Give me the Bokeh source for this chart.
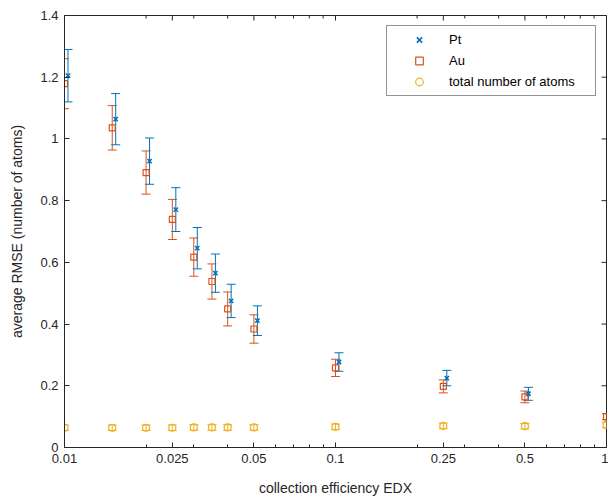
import math
from bokeh.plotting import figure
from bokeh.models import (ColumnDataSource, Whisker, TeeHead, Range1d, FixedTicker,
                          NumeralTickFormatter, Legend, LegendItem)
from bokeh.embed import file_html
from bokeh.resources import INLINE

# ---- data ----
x = [0.01, 0.015, 0.02, 0.025, 0.03, 0.035, 0.04, 0.05, 0.1, 0.25, 0.5, 1.0]
pt = [1.205, 1.064, 0.928, 0.771, 0.646, 0.565, 0.475, 0.411, 0.277, 0.225, 0.174, 0.098]
pt_err = [0.085, 0.083, 0.075, 0.071, 0.067, 0.062, 0.054, 0.048, 0.030, 0.025, 0.021, 0.010]
au = [1.179, 1.036, 0.891, 0.739, 0.617, 0.538, 0.449, 0.384, 0.258, 0.198, 0.164, 0.100]
au_err = [0.081, 0.072, 0.070, 0.065, 0.062, 0.057, 0.055, 0.046, 0.028, 0.021, 0.019, 0.010]
total = [0.064, 0.064, 0.064, 0.064, 0.065, 0.065, 0.065, 0.065, 0.067, 0.070, 0.069, 0.073]
total_err = [0.009, 0.009, 0.009, 0.009, 0.009, 0.009, 0.009, 0.009, 0.009, 0.009, 0.009, 0.009]

x_major = [0.01, 0.025, 0.05, 0.1, 0.25, 0.5, 1.0]
x_minor = [0.02, 0.03, 0.04, 0.06, 0.07, 0.08, 0.09, 0.2, 0.3, 0.4, 0.6, 0.7, 0.8, 0.9]
y_major = [0, 0.2, 0.4, 0.6, 0.8, 1.0, 1.2, 1.4]
x_lim = (0.01, 1.0)
y_lim = (0.0, 1.4)

series = ["Pt", "Au", "total number of atoms"]
colors = ["#0072BD", "#D95319", "#EDB120"]

FONT = "Liberation Sans"
TXT = "#262626"

pt_shift = 1.03  # Pt markers drawn slightly right of the nominal x
pt_x = [v * pt_shift for v in x]

p = figure(width=608, height=498, x_axis_type="log",
           x_range=Range1d(*x_lim), y_range=Range1d(*y_lim),
           output_backend="svg", toolbar_location=None,
           min_border_left=64, min_border_right=2, min_border_top=15, min_border_bottom=50)
p.xgrid.visible = False
p.ygrid.visible = False
p.outline_line_color = TXT
p.outline_line_width = 1
p.background_fill_color = "white"
p.border_fill_color = "white"


def add_series(xs, ys, es, color, marker, size, lw):
    src = ColumnDataSource(dict(x=xs, y=ys,
                                lo=[a - b for a, b in zip(ys, es)],
                                hi=[a + b for a, b in zip(ys, es)]))
    w = Whisker(base="x", lower="lo", upper="hi", source=src, dimension="height",
                line_color=color, line_width=1,
                upper_head=TeeHead(size=9, line_color=color, line_width=1),
                lower_head=TeeHead(size=9, line_color=color, line_width=1))
    p.add_layout(w)
    return p.scatter("x", "y", source=src, marker=marker, size=size,
                     line_color=color, fill_color=None, line_width=lw)


r_total = add_series(x, total, total_err, colors[2], "circle", 7, 1.2)
r_au = add_series(x, au, au_err, colors[1], "square", 6, 1.2)
r_pt = add_series(pt_x, pt, pt_err, colors[0], "x", 6, 1.6)

# axes
xa = p.xaxis[0]
xa.ticker = FixedTicker(ticks=x_major, minor_ticks=x_minor)
xa.formatter = NumeralTickFormatter(format="0.[000]")
xa.axis_label = "collection efficiency EDX"
ya = p.yaxis[0]
ya.ticker = FixedTicker(ticks=y_major)
ya.formatter = NumeralTickFormatter(format="0.[0]")
ya.axis_label = "average RMSE (number of atoms)"

for ax in (xa, ya):
    ax.major_tick_in = 5
    ax.major_tick_out = 0
    ax.minor_tick_in = 3
    ax.minor_tick_out = 0
    ax.axis_line_color = TXT
    ax.major_tick_line_color = TXT
    ax.minor_tick_line_color = TXT
    ax.major_label_text_font = FONT
    ax.major_label_text_font_size = "13px"
    ax.major_label_text_color = TXT
    ax.axis_label_text_font = FONT
    ax.axis_label_text_font_size = "14px"
    ax.axis_label_text_font_style = "normal"
    ax.axis_label_text_color = TXT
    ax.major_label_standoff = 6
ya.minor_tick_line_color = None
xa.axis_label_standoff = 14
ya.axis_label_standoff = 12

# box ticks on the top and right edges (half of each dash is clipped by the frame)
p.scatter(x=x_major, y=[y_lim[1]] * len(x_major), marker="dash", angle=math.pi / 2,
          size=10, line_color=TXT, line_width=1)
p.scatter(x=x_minor, y=[y_lim[1]] * len(x_minor), marker="dash", angle=math.pi / 2,
          size=6, line_color=TXT, line_width=1)
p.scatter(x=[x_lim[1]] * len(y_major), y=y_major, marker="dash",
          size=10, line_color=TXT, line_width=1)

legend = Legend(items=[LegendItem(label=series[0], renderers=[r_pt]),
                       LegendItem(label=series[1], renderers=[r_au]),
                       LegendItem(label=series[2], renderers=[r_total])],
                location="top_right", margin=10, padding=4, spacing=2,
                glyph_width=56, glyph_height=19, label_height=19, label_width=142,
                label_standoff=2, label_text_font=FONT, label_text_font_size="13px",
                label_text_color="black", border_line_color=TXT, border_line_width=1,
                background_fill_color="white", background_fill_alpha=1)
p.add_layout(legend)

open("out.html", "w").write(file_html(p, INLINE))
